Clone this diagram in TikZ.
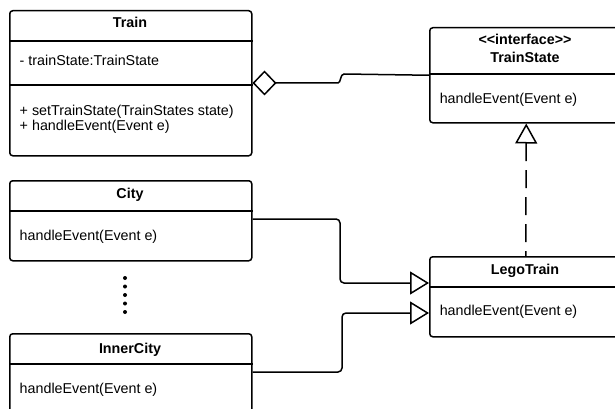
\documentclass[tikz,border=0pt]{standalone}
\usepackage{fontspec}
\setmainfont{Liberation Sans}
\usetikzlibrary{arrows.meta}
\begin{document}
\begin{tikzpicture}[x=1pt,y=-1pt,line width=1.5pt,
  umlbox/.style={draw,rounded corners=3pt,inner sep=0pt,anchor=north west},
  ttl/.style={anchor=base,inner sep=0pt,font=\fontsize{14.3}{16}\selectfont\bfseries},
  txt/.style={anchor=base west,inner sep=0pt,font=\fontsize{14.3}{16}\selectfont},
  link/.style={draw,rounded corners=4pt},
  inherit/.style={-{Triangle[open,length=19pt,width=23pt,line width=1.5pt]}},
  realize/.style={dash pattern=on 18pt off 9pt,{Triangle[open,length=20pt,width=22pt,line width=1.5pt]}-},
  aggr/.style={{Diamond[open,length=24pt,width=25pt,line width=1.5pt]}-}]
\useasboundingbox (0,0) rectangle (615,409);
\clip (0,0) rectangle (615,409);
\fill[white] (0,0) rectangle (615,409);

% Train class
\node[umlbox,minimum width=242pt,minimum height=145pt] (train) at (9,10) {};
\draw (train.west |- 0,41) -- (train.east |- 0,41);
\draw (train.west |- 0,85) -- (train.east |- 0,85);
\node[ttl] (trainT) at (130,28) {Train};
\node[txt] (trainA) at (19,66) {- trainState:TrainState};
\node[txt] (trainM1) at (19,115) {+ setTrainState(TrainStates state)};
\node[txt] (trainM2) at (19,131) {+ handleEvent(Event e)};

% TrainState interface
\node[umlbox,minimum width=193pt,minimum height=95pt] (ts) at (429,27) {};
\draw (ts.west |- 0,74) -- (ts.east |- 0,74);
\node[ttl] (tsS) at (525,45) {<{}<interface>{}>};
\node[ttl] (tsT) at (525,63) {TrainState};
\node[txt] (tsM) at (439,103) {handleEvent(Event e)};

% City class
\node[umlbox,minimum width=242pt,minimum height=80pt] (city) at (9,180) {};
\draw (city.west |- 0,211) -- (city.east |- 0,211);
\node[ttl] (cityT) at (130,198) {City};
\node[txt] (cityM) at (19,240) {handleEvent(Event e)};

% InnerCity class
\node[umlbox,minimum width=242pt,minimum height=90pt] (inner) at (9,333) {};
\draw (inner.west |- 0,364) -- (inner.east |- 0,364);
\node[ttl] (innerT) at (130,353) {InnerCity};
\node[txt] (innerM) at (19,393) {handleEvent(Event e)};

% LegoTrain class
\node[umlbox,minimum width=192pt,minimum height=80pt] (lego) at (429,256) {};
\draw (lego.west |- 0,287) -- (lego.east |- 0,287);
\node[ttl] (legoT) at (525,274) {LegoTrain};
\node[txt] (legoM) at (439,315) {handleEvent(Event e)};

% vertical ellipsis between City and InnerCity
\foreach \yy in {278,286.5,295,303.5,312}
  \fill (125,\yy) circle (2pt);

% aggregation Train <>-- TrainState
\coordinate (aggS) at (train.east |- 0,83);
\draw[aggr] (aggS) -- (338,83) .. controls (341,83) and (340,74) .. (344,74) -- (ts.west);

% realization LegoTrain --|> TrainState
\draw[realize] (ts.south) -- (lego.north);

% City and InnerCity generalizations towards LegoTrain
\coordinate (cityS) at (city.east |- 0,219);
\coordinate (legoA) at (lego.west |- 0,283);
\draw[link,inherit] (cityS) -- (340,219) -- (340,283) -- (legoA);
\coordinate (innerS) at (inner.east |- 0,372);
\coordinate (legoB) at (lego.west |- 0,313);
\draw[link,inherit] (innerS) -- (342,372) -- (342,313) -- (legoB);
\end{tikzpicture}
\end{document}
